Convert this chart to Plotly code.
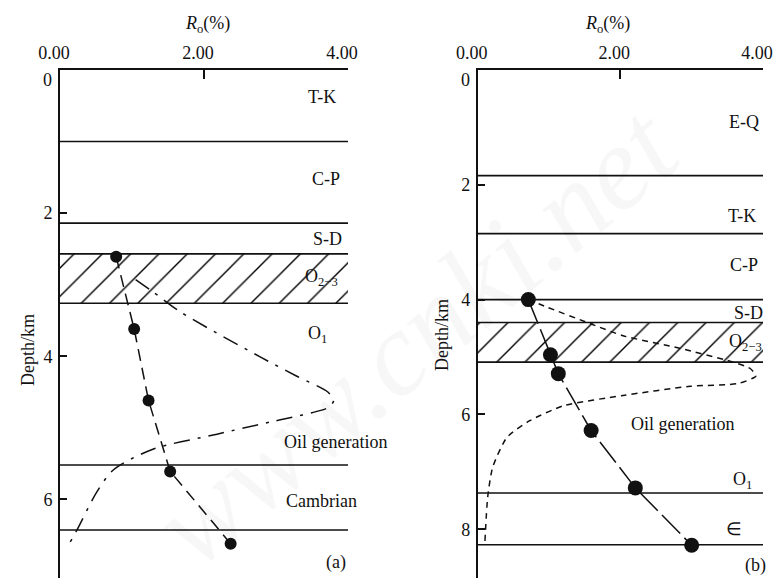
import plotly.graph_objects as go

# ---------------- data: panel (a) ----------------
ro_a = [0.78, 1.03, 1.23, 1.53, 2.37]
depth_a = [2.61, 3.62, 4.62, 5.61, 6.62]

oil_a_x = [1.05, 1.29, 1.67, 2.78, 3.29, 3.72, 3.80, 3.74, 3.50, 3.24, 2.92, 2.18, 1.29, 0.74, 0.51, 0.24, 0.14]
oil_a_y = [2.93, 3.10, 3.38, 4.01, 4.28, 4.50, 4.62, 4.71, 4.79, 4.85, 4.92, 5.09, 5.30, 5.59, 5.90, 6.42, 6.60]

bounds_a = [1.00, 2.14, 2.57, 3.26, 5.52, 6.43]
hatch_a = [2.57, 3.26]
labels_a = ["T-K", "C-P", "S-D", "O<sub>2−3</sub>", "O<sub>1</sub>", "Oil generation", "Cambrian", "(a)"]
label_a_x = [3.64, 3.69, 3.72, 3.63, 3.58, 3.83, 3.63, 3.84]
label_a_y = [0.38, 1.52, 2.36, 2.90, 3.69, 5.20, 6.03, 6.88]

# ---------------- data: panel (b) ----------------
ro_b = [0.71, 1.02, 1.13, 1.59, 2.21, 3.00]
depth_b = [4.00, 4.96, 5.29, 6.28, 7.28, 8.28]

oil_b_x = [0.71, 0.97, 1.58, 2.04, 2.84, 3.50, 3.82, 3.90, 3.66, 2.98, 2.04, 1.20, 0.73, 0.41, 0.21, 0.14, 0.10]
oil_b_y = [4.00, 4.13, 4.42, 4.63, 4.85, 5.06, 5.20, 5.33, 5.46, 5.51, 5.67, 5.85, 6.11, 6.40, 6.92, 7.44, 8.25]

bounds_b = [1.84, 2.85, 4.00, 4.40, 5.09, 7.37, 8.27]
hatch_b = [4.40, 5.09]
labels_b = ["E-Q", "T-K", "C-P", "S-D", "O<sub>2−3</sub>", "Oil generation", "O<sub>1</sub>", "∈", "(b)"]
label_b_x = [3.74, 3.71, 3.74, 3.79, 3.75, 2.87, 3.71, 3.59, 3.89]
label_b_y = [0.91, 2.54, 3.40, 4.23, 4.75, 6.16, 7.15, 7.99, 8.63]

x_ticks = [0, 2, 4]
y_ticks_a = [0, 2, 4, 6]
y_ticks_b = [0, 2, 4, 6, 8]
x_range = [0, 4]
y_range_a = [7.1, 0]
y_range_b = [8.85, 0]

FONT = "Liberation Serif, Times New Roman, serif"
INK = "#111111"

W, H = 773, 578
TOP = 70
PLOT_H = H - TOP

fig = go.Figure()


def add_panel(xa, ya, bounds, hatch, ro, depth, ox, oy, curve_dash, pt_dash, msize, smooth):
    fig.add_trace(go.Scatter(
        x=[x_range[0], x_range[1], x_range[1], x_range[0], x_range[0]],
        y=[hatch[0], hatch[0], hatch[1], hatch[1], hatch[0]],
        fill="toself", mode="lines", line=dict(width=0),
        fillcolor="white",
        fillpattern=dict(shape="/", size=20, solidity=0.07, fgcolor="#000000", fgopacity=1, bgcolor="white"),
        xaxis=xa, yaxis=ya, hoverinfo="skip", showlegend=False))
    bx, by = [], []
    for d in bounds:
        bx += [x_range[0], x_range[1], None]
        by += [d, d, None]
    fig.add_trace(go.Scatter(x=bx, y=by, mode="lines", line=dict(color=INK, width=1.6),
                             xaxis=xa, yaxis=ya, hoverinfo="skip", showlegend=False))
    fig.add_trace(go.Scatter(x=ox, y=oy, mode="lines",
                             line=dict(color=INK, width=1.5, dash=curve_dash, shape="spline", smoothing=smooth),
                             xaxis=xa, yaxis=ya, hoverinfo="skip", showlegend=False))
    fig.add_trace(go.Scatter(x=ro, y=depth, mode="lines+markers",
                             line=dict(color=INK, width=1.5, dash=pt_dash),
                             marker=dict(color=INK, size=msize),
                             xaxis=xa, yaxis=ya, hoverinfo="skip", showlegend=False))


add_panel("x", "y", bounds_a, hatch_a, ro_a, depth_a, oil_a_x, oil_a_y, "16px,8px,3px,8px", "12px,7px", 12, 0.8)
add_panel("x2", "y2", bounds_b, hatch_b, ro_b, depth_b, oil_b_x, oil_b_y, "6px,5px", "26px,6px", 15, 0.6)

ax_common = dict(range=x_range, side="top", showline=True, linecolor=INK, linewidth=1.6,
                 ticks="inside", ticklen=9, tickwidth=1.5, tickcolor=INK, automargin=False,
                 tickvals=x_ticks, tickformat=".2f", showgrid=False, zeroline=False,
                 ticklabeloverflow="allow", ticklabelshift=-6,
                 tickfont=dict(family=FONT, size=18, color=INK), ticklabelstandoff=2)
ay_common = dict(showline=True, linecolor=INK, linewidth=1.6, automargin=False,
                 ticks="inside", ticklen=7, tickwidth=1.5, tickcolor=INK,
                 showgrid=False, zeroline=False,
                 tickfont=dict(family=FONT, size=18, color=INK), ticklabelstandoff=2)


def tick_text(vals):
    # the top (0) label is drawn just under the corner, as in the reference
    return ["" if v == 0 else str(v) for v in vals]


annotations = []
for t, x, y in zip(labels_a, label_a_x, label_a_y):
    annotations.append(dict(text=t, x=x, y=y, xref="x", yref="y", showarrow=False,
                            font=dict(family=FONT, size=18, color=INK)))
for t, x, y in zip(labels_b, label_b_x, label_b_y):
    annotations.append(dict(text=t, x=x, y=y, xref="x2", yref="y2", showarrow=False,
                            font=dict(family=FONT, size=18, color=INK)))
for xr, yr, vals in (("x", "y", y_ticks_a), ("x2", "y2", y_ticks_b)):
    annotations.append(dict(text=str(vals[0]), x=x_range[0], y=vals[0], xref=xr, yref=yr,
                            xanchor="right", yanchor="top", xshift=-6, yshift=2, showarrow=False,
                            font=dict(family=FONT, size=18, color=INK)))


def px(xp): return xp / W
def py(yp): return (H - yp) / PLOT_H


for cx in (207, 607):
    annotations.append(dict(text="<i>R</i><sub>o</sub>(%)", x=px(cx), y=py(25), xref="paper", yref="paper",
                            xanchor="center", yanchor="middle", showarrow=False,
                            font=dict(family=FONT, size=18, color=INK)))
for cx, cy in ((28, 350), (442, 335)):
    annotations.append(dict(text="Depth/km", x=px(cx), y=py(cy), xref="paper", yref="paper",
                            xanchor="center", yanchor="middle",
                            textangle=-90, showarrow=False, font=dict(family=FONT, size=18, color=INK)))

# watermark
annotations.append(dict(text="www.cnki.net", x=px(415), y=py(335), xref="paper", yref="paper",
                        xanchor="center", yanchor="middle",
                        textangle=-40, showarrow=False,
                        font=dict(family=FONT, size=120, color="rgba(0,0,0,0.03)", style="italic")))

fig.update_layout(
    width=W, height=H,
    margin=dict(l=0, r=0, t=TOP, b=0, autoexpand=False),
    paper_bgcolor="white", plot_bgcolor="white",
    xaxis=dict(domain=[60 / W, 348 / W], anchor="y", **ax_common),
    yaxis=dict(domain=[0, 1], anchor="x", range=y_range_a, tickvals=y_ticks_a,
               ticktext=tick_text(y_ticks_a), **ay_common),
    xaxis2=dict(domain=[477.7 / W, 763 / W], anchor="y2", **ax_common),
    yaxis2=dict(domain=[0, 1], anchor="x2", range=y_range_b, tickvals=y_ticks_b,
                ticktext=tick_text(y_ticks_b), **ay_common),
    annotations=annotations,
    showlegend=False,
)

fig.write_html("out.html")
